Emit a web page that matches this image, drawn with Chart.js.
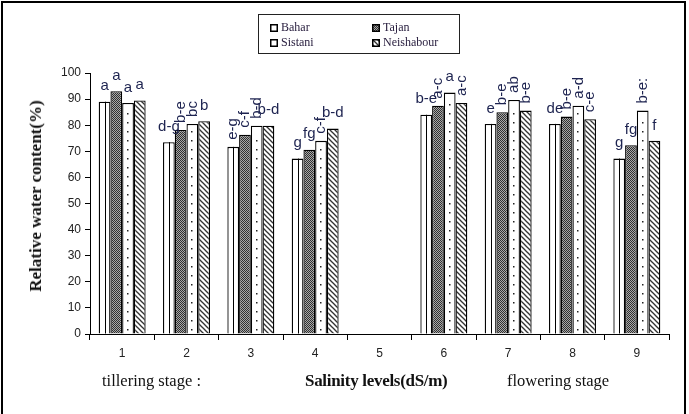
<!DOCTYPE html>
<html><head><meta charset="utf-8">
<script src="https://cdn.jsdelivr.net/npm/chart.js@4.4.1/dist/chart.umd.min.js"></script>
<style>
html,body{margin:0;padding:0;background:#fff;}
#wrap{position:relative;width:689px;height:414px;overflow:hidden;background:#fff;}
#frame{position:absolute;left:1px;top:1px;width:685px;height:440px;border:2px solid #000;box-sizing:border-box;}
#chart{position:absolute;left:0;top:0;}
#legend{position:absolute;left:258px;top:14px;width:202px;height:40px;border:1.5px solid #222;box-sizing:border-box;font-family:"Liberation Serif",serif;font-size:12px;color:#2a2040;}
.item{position:absolute;display:flex;align-items:center;white-space:nowrap;}
.item canvas{margin-right:3px;}
.txt{position:absolute;font-family:"Liberation Serif",serif;color:#111;white-space:nowrap;}
</style>
</head><body>
<div id="wrap">
  <div id="frame"></div>
  <canvas id="chart" width="689" height="414"></canvas>
  <div id="legend"></div>
  <div class="txt" id="ytitle" style="left:36px;top:196px;font-size:17px;font-weight:bold;transform:translate(-50%,-50%) rotate(-90deg);">Relative water content(%)</div>
  <div class="txt" style="left:102px;top:371px;font-size:16.5px;">tillering stage :</div>
  <div class="txt" style="left:305px;top:371px;font-size:17px;font-weight:bold;letter-spacing:-0.3px;">Salinity levels(dS/m)</div>
  <div class="txt" style="left:507px;top:371px;font-size:16.5px;">flowering stage</div>
</div>
<script>
// ---- data ----
const categories = ["1","2","3","4","5","6","7","8","9"];
const bahar      = [89.0, 73.5, 71.7, 67.2, null, 84.0, 80.5, 80.5, 67.2];
const tajan      = [93.0, 78.2, 76.3, 70.6, null, 87.5, 85.0, 83.3, 72.3];
const sistani    = [88.5, 80.5, 79.8, 74.0, null, 92.5, 89.7, 87.5, 85.6];
const neishabour = [89.5, 81.5, 79.8, 78.7, null, 88.5, 85.6, 82.3, 74.0];
const sigBahar      = ["a","d-g","e-g","g",null,"b-e","e","de","g"];
const sigTajan      = ["a","b-e","c-f","fg",null,"a-c","b-e","b-e","fg"];
const sigSistani    = ["a","bc","b-d","c-f",null,"a","ab","a-d","b-e:"];
const sigNeishabour = ["a","b","b-d","b-d",null,"a-c","b-e","c-e","f"];
const seriesNames = ["Bahar","Tajan","Sistani","Neishabour"];

// which significance letters are written vertically (style)
const verticalSig = [
  [0,0,1,0,0,0,0,0,0],
  [0,1,1,0,0,1,1,1,0],
  [0,1,1,1,0,0,1,1,1],
  [0,0,0,0,0,1,1,1,0]
];

// ---- patterns ----
function tajanPattern(){
  const c=document.createElement('canvas');c.width=2;c.height=2;
  const x=c.getContext('2d');
  x.fillStyle='#a8a8a8';x.fillRect(0,0,2,2);
  x.fillStyle='#303030';x.fillRect(0,0,1,1);x.fillRect(1,1,1,1);
  return c;
}
function hatchPattern(){
  const c=document.createElement('canvas');c.width=5;c.height=5;
  const x=c.getContext('2d');
  x.fillStyle='#fff';x.fillRect(0,0,5,5);
  x.strokeStyle='#333';x.lineWidth=1.3;
  for(const o of [-5,0,5]){x.beginPath();x.moveTo(o-1,-1);x.lineTo(o+6,6);x.stroke();}
  return c;
}
const cv=document.getElementById('chart');
const ctx0=cv.getContext('2d');
const tajanFill=ctx0.createPattern(tajanPattern(),'repeat');
const hatchFill=ctx0.createPattern(hatchPattern(),'repeat');
const fills=['#ffffff',tajanFill,'#ffffff',hatchFill];

// ---- legend (HTML) ----
const lg=document.getElementById('legend');
const pos=[[11,5],[113,5],[11,20],[113,20]];
seriesNames.forEach((n,i)=>{
  const d=document.createElement('div');d.className='item';
  d.style.left=pos[i][0]+'px';d.style.top=pos[i][1]+'px';
  const s=document.createElement('canvas');s.width=8;s.height=8;
  const sx=s.getContext('2d');
  sx.fillStyle=i===1?sx.createPattern(tajanPattern(),'repeat'):(i===3?sx.createPattern(hatchPattern(),'repeat'):'#fff');
  sx.fillRect(0,0,8,8);sx.strokeStyle='#000';sx.lineWidth=1.5;sx.strokeRect(0.75,0.75,6.5,6.5);
  d.appendChild(s);
  const t=document.createElement('span');t.textContent=n;d.appendChild(t);
  lg.appendChild(d);
});

// ---- decorations: Bahar centre line, Sistani dots, letters ----
const sigs=[sigBahar,sigTajan,sigSistani,sigNeishabour];
const deco={
  id:'deco',
  afterDatasetsDraw(chart){
    const ctx=chart.ctx;ctx.save();
    const m0=chart.getDatasetMeta(0);
    ctx.strokeStyle='#000';ctx.lineWidth=1;
    m0.data.forEach((el,i)=>{
      if(bahar[i]==null)return;
      const x=Math.round(el.x)+0.5;
      ctx.beginPath();ctx.moveTo(x,el.y);ctx.lineTo(x,el.base);ctx.stroke();
    });
    const m2=chart.getDatasetMeta(2);
    ctx.fillStyle='#222';
    m2.data.forEach((el,i)=>{
      if(sistani[i]==null)return;
      for(let y=el.base-5;y>el.y+5;y-=9){ctx.fillRect(Math.round(el.x)-1,Math.round(y),1.5,1.5);}
    });
    ctx.font='15px "Liberation Sans", Arial, sans-serif';
    ctx.fillStyle='#1d2350';
    sigs.forEach((arr,d)=>{
      const meta=chart.getDatasetMeta(d);
      arr.forEach((lab,i)=>{
        if(!lab)return;
        const el=meta.data[i];
        if(verticalSig[d][i]){
          ctx.save();ctx.translate(el.x,el.y-7);ctx.rotate(-Math.PI/2);
          ctx.textAlign='left';ctx.textBaseline='middle';ctx.fillText(lab,0,0);ctx.restore();
        }else{
          ctx.textAlign='center';ctx.textBaseline='bottom';ctx.fillText(lab,el.x,el.y-8);
        }
      });
    });
    ctx.restore();
  }
};

const tickFont={family:'"Liberation Sans", Arial, sans-serif',size:12};
new Chart(cv,{
  type:'bar',
  data:{
    labels:categories,
    datasets:[bahar,tajan,sistani,neishabour].map((v,i)=>({
      label:seriesNames[i],data:v,backgroundColor:fills[i],
      borderColor:'#000',borderWidth:1.3,
      categoryPercentage:0.73,barPercentage:1.0
    }))
  },
  options:{
    responsive:false,animation:false,devicePixelRatio:1,
    layout:{padding:{left:0,right:20,top:73,bottom:0}},
    plugins:{legend:{display:false},tooltip:{enabled:false}},
    scales:{
      x:{
        offset:true,
        grid:{display:true,drawOnChartArea:false,offset:true,tickLength:6,color:'#000',lineWidth:1},
        border:{color:'#000',width:1},
        ticks:{font:tickFont,color:'#222',padding:6,maxRotation:0},
        afterFit(s){s.height=80;}
      },
      y:{
        min:0,max:100,
        grid:{display:true,drawOnChartArea:false,tickLength:5,color:'#000',lineWidth:1},
        border:{color:'#000',width:1},
        ticks:{stepSize:10,font:tickFont,color:'#222',padding:4},
        afterFit(s){s.width=90;}
      }
    }
  },
  plugins:[deco]
});
</script>
</body></html>
